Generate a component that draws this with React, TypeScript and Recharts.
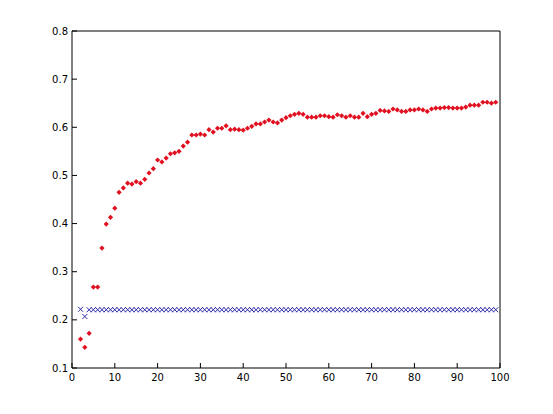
import React from 'react'
import { ScatterChart, Scatter, XAxis, YAxis } from 'recharts'

// iteration number (x) for both series
const iterations = [
  2, 3, 4, 5, 6, 7, 8, 9, 10, 11, 12, 13, 14, 15, 16, 17, 18, 19, 20,
  21, 22, 23, 24, 25, 26, 27, 28, 29, 30, 31, 32, 33, 34, 35, 36, 37, 38, 39, 40,
  41, 42, 43, 44, 45, 46, 47, 48, 49, 50, 51, 52, 53, 54, 55, 56, 57, 58, 59, 60,
  61, 62, 63, 64, 65, 66, 67, 68, 69, 70, 71, 72, 73, 74, 75, 76, 77, 78, 79, 80,
  81, 82, 83, 84, 85, 86, 87, 88, 89, 90, 91, 92, 93, 94, 95, 96, 97, 98, 99
]

// red diamonds
const redValues = [
  0.160, 0.143, 0.172, 0.268, 0.268, 0.349, 0.399, 0.413, 0.432, 0.465,
  0.474, 0.484, 0.482, 0.487, 0.484, 0.492, 0.505, 0.514, 0.532, 0.528,
  0.536, 0.545, 0.547, 0.550, 0.561, 0.569, 0.584, 0.584, 0.586, 0.584,
  0.595, 0.590, 0.598, 0.598, 0.603, 0.595, 0.596, 0.595, 0.594, 0.598,
  0.602, 0.607, 0.607, 0.611, 0.615, 0.611, 0.609, 0.615, 0.620, 0.624,
  0.627, 0.629, 0.627, 0.621, 0.621, 0.621, 0.624, 0.624, 0.622, 0.621,
  0.626, 0.624, 0.621, 0.624, 0.621, 0.621, 0.629, 0.622, 0.627, 0.629,
  0.635, 0.634, 0.633, 0.638, 0.636, 0.633, 0.633, 0.636, 0.636, 0.638,
  0.636, 0.633, 0.638, 0.640, 0.640, 0.641, 0.641, 0.640, 0.640, 0.640,
  0.642, 0.646, 0.646, 0.646, 0.652, 0.652, 0.650, 0.652
]

// blue crosses
const blueValues = [
  0.222, 0.207, 0.221, 0.221, 0.221, 0.221, 0.221, 0.221, 0.221, 0.221,
  0.221, 0.221, 0.221, 0.221, 0.221, 0.221, 0.221, 0.221, 0.221, 0.221,
  0.221, 0.221, 0.221, 0.221, 0.221, 0.221, 0.221, 0.221, 0.221, 0.221,
  0.221, 0.221, 0.221, 0.221, 0.221, 0.221, 0.221, 0.221, 0.221, 0.221,
  0.221, 0.221, 0.221, 0.221, 0.221, 0.221, 0.221, 0.221, 0.221, 0.221,
  0.221, 0.221, 0.221, 0.221, 0.221, 0.221, 0.221, 0.221, 0.221, 0.221,
  0.221, 0.221, 0.221, 0.221, 0.221, 0.221, 0.221, 0.221, 0.221, 0.221,
  0.221, 0.221, 0.221, 0.221, 0.221, 0.221, 0.221, 0.221, 0.221, 0.221,
  0.221, 0.221, 0.221, 0.221, 0.221, 0.221, 0.221, 0.221, 0.221, 0.221,
  0.221, 0.221, 0.221, 0.221, 0.221, 0.221, 0.221, 0.221
]

const xTicks = [0, 10, 20, 30, 40, 50, 60, 70, 80, 90, 100]
const yTicks = [0.1, 0.2, 0.3, 0.4, 0.5, 0.6, 0.7, 0.8]

const redData = iterations.map((x, i) => ({ x, y: redValues[i] }))
const blueData = iterations.map((x, i) => ({ x, y: blueValues[i] }))

const RED = '#e01020'
const BLUE = '#2828a8'

const Diamond = (props: any) => {
  const { cx, cy } = props
  const r = 2.6
  return (
    <polygon
      points={`${cx},${cy - r} ${cx + r},${cy} ${cx},${cy + r} ${cx - r},${cy}`}
      fill={RED}
    />
  )
}

const Cross = (props: any) => {
  const { cx, cy } = props
  const r = 2.5
  return (
    <path
      d={`M${cx - r},${cy - r}L${cx + r},${cy + r}M${cx - r},${cy + r}L${cx + r},${cy - r}`}
      stroke={BLUE}
      strokeWidth={1}
      fill="none"
    />
  )
}

const tickStyle = { fontSize: 10, fill: '#000', fontFamily: 'DejaVu Sans' }

export default function App() {
  return (
    <div style={{ position: 'absolute', left: 0, top: 0, background: '#fff' }}>
      <ScatterChart
        width={553}
        height={414}
        margin={{ top: 30, right: 52, bottom: 0, left: 0 }}
      >
        <XAxis
          xAxisId="b"
          type="number"
          dataKey="x"
          domain={[0, 100]}
          ticks={xTicks}
          height={46}
          tickSize={-5}
          tickMargin={11}
          stroke="#000"
          tick={tickStyle}
        />
        <XAxis
          xAxisId="t"
          orientation="top"
          type="number"
          dataKey="x"
          domain={[0, 100]}
          ticks={xTicks}
          height={1}
          tickSize={-5}
          tick={false}
          stroke="#000"
        />
        <YAxis
          yAxisId="l"
          type="number"
          dataKey="y"
          domain={[0.1, 0.8]}
          ticks={yTicks}
          width={72}
          tickSize={-5}
          tickMargin={9}
          stroke="#000"
          tick={tickStyle}
        />
        <YAxis
          yAxisId="r"
          orientation="right"
          type="number"
          dataKey="y"
          domain={[0.1, 0.8]}
          ticks={yTicks}
          width={1}
          tickSize={-5}
          tick={false}
          stroke="#000"
        />
        <Scatter
          xAxisId="b"
          yAxisId="l"
          data={blueData}
          shape={Cross}
          isAnimationActive={false}
        />
        <Scatter
          xAxisId="b"
          yAxisId="l"
          data={redData}
          shape={Diamond}
          isAnimationActive={false}
        />
      </ScatterChart>
    </div>
  )
}
